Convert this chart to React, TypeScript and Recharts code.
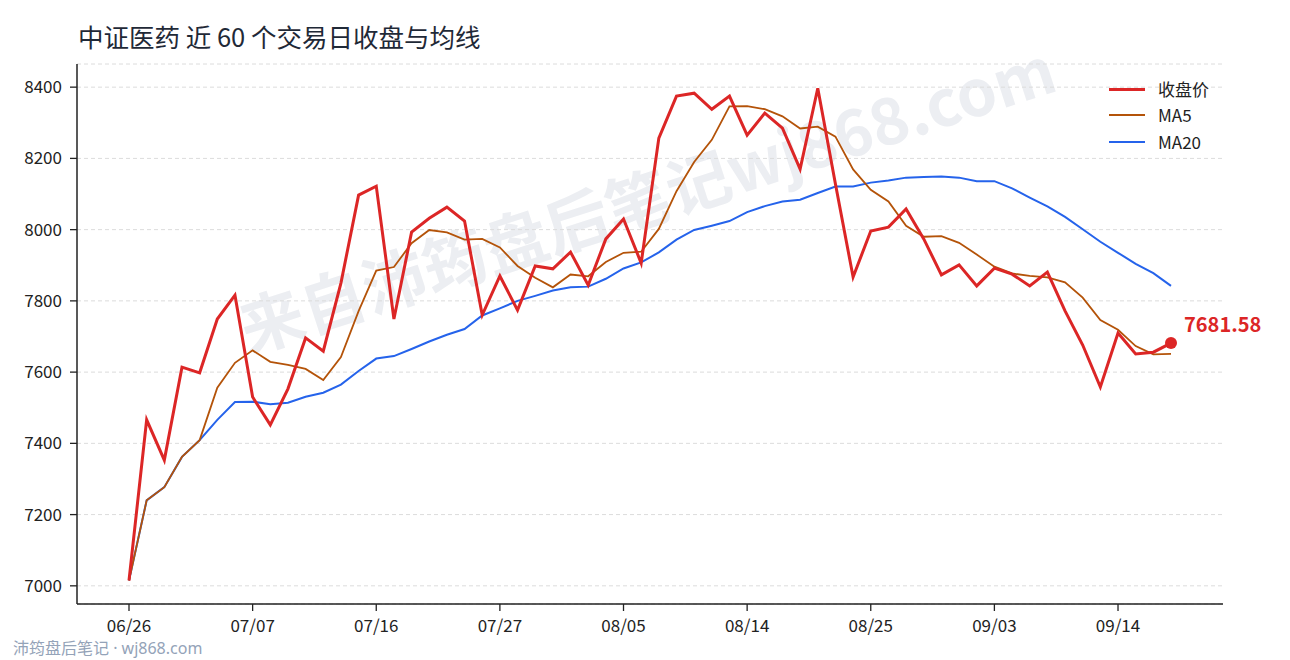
import React from 'react';
import { LineChart, Line, XAxis, YAxis, CartesianGrid } from 'recharts';

const dates = [
  '06/26','06/27','06/30','07/01','07/02','07/03','07/04','07/07','07/08','07/09',
  '07/10','07/11','07/14','07/15','07/16','07/17','07/18','07/21','07/22','07/23',
  '07/24','07/27','07/28','07/29','07/30','07/31','08/01','08/04','08/05','08/06',
  '08/07','08/08','08/11','08/12','08/13','08/14','08/15','08/18','08/19','08/20',
  '08/21','08/22','08/25','08/26','08/27','08/28','08/29','09/01','09/02','09/03',
  '09/04','09/05','09/08','09/09','09/10','09/11','09/14','09/15','09/16','09/17',
];

const close = [
  7015, 7466, 7353, 7614, 7598, 7749, 7816, 7530, 7452, 7553,
  7696, 7659, 7850, 8097, 8122, 7749, 7993, 8032, 8063, 8024,
  7760, 7870, 7774, 7898, 7890, 7937, 7844, 7974, 8030, 7906,
  8257, 8375, 8383, 8338, 8375, 8265, 8327, 8285, 8170, 8397,
  8128, 7867, 7996, 8007, 8058, 7974, 7873, 7901, 7842, 7892,
  7875, 7842, 7881, 7772, 7676, 7558, 7710, 7651, 7656, 7681.58,
];

const ma5 = [
  7015, 7240, 7277, 7362, 7409, 7556, 7626, 7661, 7629, 7620,
  7609, 7578, 7642, 7771, 7885, 7895, 7962, 7999, 7992, 7972,
  7974, 7950, 7898, 7865, 7838, 7874, 7869, 7909, 7935, 7938,
  8002, 8108, 8190, 8252, 8346, 8347, 8338, 8318, 8284, 8289,
  8261, 8169, 8112, 8079, 8011, 7980, 7982, 7963, 7930, 7896,
  7877, 7870, 7866, 7852, 7809, 7746, 7719, 7673, 7650, 7651,
];

const ma20 = [
  7015, 7240, 7277, 7362, 7409, 7466, 7516, 7517, 7510, 7514,
  7531, 7542, 7565, 7603, 7638, 7645, 7665, 7686, 7705, 7721,
  7759, 7779, 7800, 7814, 7829, 7838, 7840, 7862, 7891, 7908,
  7936, 7972, 7999, 8011, 8024, 8049, 8066, 8079, 8084, 8103,
  8121, 8121, 8132, 8138, 8146, 8148, 8149, 8146, 8136, 8136,
  8116, 8090, 8065, 8036, 8001, 7966, 7935, 7904, 7878, 7842,
];

const yTicks = [7000, 7200, 7400, 7600, 7800, 8000, 8200, 8400];

const seriesNames = ['收盘价', 'MA5', 'MA20'];
const titleText = '中证医药 近 60 个交易日收盘与均线';
const watermarkText = '来自沛筠盘后笔记wj868.com';
const footerText = '沛筠盘后笔记 · wj868.com';

const RED = '#dc2626';
const ORANGE = '#b45309';
const BLUE = '#2563eb';
const FONT = '"Noto Sans CJK SC", "Noto Sans", sans-serif';
const LATIN_FONT = '"Noto Sans", "Noto Sans CJK SC", sans-serif';

const data = dates.map((d, i) => ({ date: d, close: close[i], ma5: ma5[i], ma20: ma20[i] }));

const lastIndex = close.length - 1;

const renderLastDot = (props: any) => {
  const { cx, cy, index } = props;
  if (index !== lastIndex) return <g key={`d${index}`} />;
  return (
    <g key="last-dot">
      <circle cx={cx} cy={cy} r={6} fill={RED} />
      <text
        x={cx + 13}
        y={cy - 20}
        fill={RED}
        fontSize={20}
        fontWeight={700}
        fontFamily={FONT}
        dominantBaseline="central"
      >
        {close[lastIndex].toFixed(2)}
      </text>
    </g>
  );
};

const legendItems = [
  { name: seriesNames[0], color: RED, width: 3.2 },
  { name: seriesNames[1], color: ORANGE, width: 2 },
  { name: seriesNames[2], color: BLUE, width: 2 },
];

export default function App() {
  return (
    <div
      style={{
        position: 'absolute',
        left: 0,
        top: 0,
        width: 1290,
        height: 660,
        background: '#fff',
        fontFamily: FONT,
        overflow: 'hidden',
      }}
    >
      <svg width={1290} height={660} style={{ position: 'absolute', left: 0, top: 0, zIndex: 0 }}>
        <text
          x={646}
          y={195}
          textAnchor="middle"
          dominantBaseline="central"
          fontSize={64}
          fontWeight={700}
          fontFamily={FONT}
          fill="#eceef2"
          transform="rotate(-18 646 195)"
        >
          {watermarkText}
        </text>
      </svg>

      <div
        style={{
          position: 'absolute',
          left: 78,
          top: 21,
          fontSize: 25.5,
          lineHeight: '30px',
          color: '#1f2937',
          whiteSpace: 'nowrap',
          zIndex: 2,
        }}
      >
        {titleText}
      </div>

      <div style={{ position: 'absolute', left: 0, top: 0, zIndex: 1 }}>
        <LineChart
          width={1290}
          height={660}
          data={data}
          margin={{ top: 64, right: 67, bottom: 26, left: 17 }}
        >
          <CartesianGrid vertical={false} stroke="#dcdcdc" strokeDasharray="4 3" />
          <XAxis
            dataKey="date"
            interval={6}
            padding={{ left: 52, right: 52 }}
            height={30}
            tickSize={7}
            tickMargin={9}
            axisLine={{ stroke: '#222', strokeWidth: 1.5 }}
            tickLine={{ stroke: '#222', strokeWidth: 1.3 }}
            tick={{ fill: '#222', fontSize: 17, fontFamily: FONT }}
          />
          <YAxis
            domain={[6949, 8465]}
            ticks={yTicks}
            width={60}
            tickSize={7}
            tickMargin={8}
            axisLine={{ stroke: '#222', strokeWidth: 1.5 }}
            tickLine={{ stroke: '#222', strokeWidth: 1.3 }}
            tick={{ fill: '#222', fontSize: 17, fontFamily: FONT }}
          />
          <Line
            type="linear"
            dataKey="ma20"
            stroke={BLUE}
            strokeWidth={2}
            dot={false}
            activeDot={false}
            isAnimationActive={false}
          />
          <Line
            type="linear"
            dataKey="ma5"
            stroke={ORANGE}
            strokeWidth={1.8}
            dot={false}
            activeDot={false}
            isAnimationActive={false}
          />
          <Line
            type="linear"
            dataKey="close"
            stroke={RED}
            strokeWidth={3}
            dot={renderLastDot}
            activeDot={false}
            isAnimationActive={false}
          />
        </LineChart>
      </div>

      <div style={{ position: 'absolute', left: 1109, top: 76, zIndex: 2 }}>
        {legendItems.map((it) => (
          <div key={it.name} style={{ display: 'flex', alignItems: 'center', height: 26.3 }}>
            <div style={{ width: 36, height: it.width, background: it.color, marginRight: 13 }} />
            <span style={{ fontSize: 17, color: '#222', lineHeight: '26px' }}>{it.name}</span>
          </div>
        ))}
      </div>

      <div
        style={{
          position: 'absolute',
          left: 13,
          top: 638,
          fontSize: 16,
          lineHeight: '20px',
          color: '#94a3b8',
          whiteSpace: 'nowrap',
          fontFamily: LATIN_FONT,
          zIndex: 2,
        }}
      >
        {footerText}
      </div>
    </div>
  );
}
